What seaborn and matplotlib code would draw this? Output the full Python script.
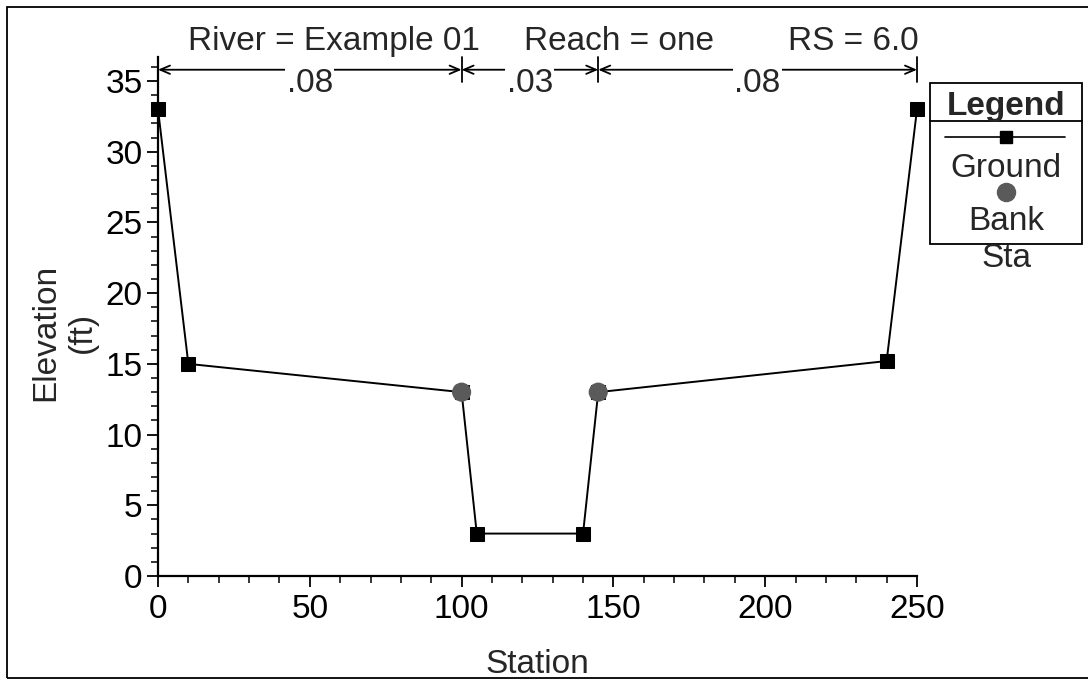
import numpy as np
import pandas as pd
import matplotlib.pyplot as plt
import seaborn as sns
from matplotlib.lines import Line2D
from matplotlib.patches import Rectangle
from matplotlib.ticker import MultipleLocator

# cross section data
station = [0, 10, 100, 105, 140, 145, 240, 250]
elevation = [33, 15, 13, 3, 3, 13, 15.2, 33]
bank_station = [100, 145]
bank_elevation = [13, 13]

# manning's n regions
n_breaks = [0, 100, 145, 250]
n_values = ['.08', '.03', '.08']

title_parts = ['River = Example 01', 'Reach = one', 'RS = 6.0']

W, H = 1088, 681


def fx(x):
    return x / W


def fy(y):
    return 1 - y / H


sns.set_style('white')
plt.rcParams['font.family'] = ['Liberation Sans', 'DejaVu Sans']
FS = 24

fig = plt.figure(figsize=(W / 100, H / 100), dpi=100)
ax = fig.add_axes([fx(158), fy(576), fx(917) - fx(158), fy(57) - fy(576)])

df = pd.DataFrame({'Station': station, 'Elevation': elevation})
sns.lineplot(data=df, x='Station', y='Elevation', ax=ax, sort=False,
             color='black', lw=1.4, marker='s', markersize=9.5,
             markeredgecolor='black', clip_on=False, zorder=4)
sns.scatterplot(x=bank_station, y=bank_elevation, ax=ax, color='#5a5a5a',
                s=190, edgecolor='none', zorder=5, clip_on=False, legend=False)

ax.set_xlim(0, 250)
ax.set_ylim(0, 36.7)
ax.xaxis.set_major_locator(MultipleLocator(50))
ax.xaxis.set_minor_locator(MultipleLocator(10))
ax.yaxis.set_major_locator(MultipleLocator(5))
ax.yaxis.set_minor_locator(MultipleLocator(1))
ax.set_xlabel('')
ax.set_ylabel('')
sns.despine(ax=ax)
for s in ['left', 'bottom']:
    ax.spines[s].set_color('black')
    ax.spines[s].set_linewidth(1.6)
ax.tick_params(which='both', bottom=True, left=True, top=False, right=False)
ax.tick_params(which='major', direction='out', length=8, width=1.3,
               colors='black', labelsize=FS)
ax.tick_params(which='minor', direction='out', length=5, width=1.1,
               colors='black')
ax.tick_params(axis='x', which='major', pad=5)
ax.tick_params(axis='y', which='major', pad=3)
ax.grid(False)

# n value dimension lines
y_dim = 35.8
for a, b, lab in zip(n_breaks[:-1], n_breaks[1:], n_values):
    ax.annotate('', xy=(a, y_dim), xytext=(b, y_dim), annotation_clip=False,
                arrowprops=dict(arrowstyle='<->,head_length=0.7,head_width=0.3',
                                lw=1.3, color='black', shrinkA=0, shrinkB=0))
    ax.text((a + b) / 2, 34.25, lab, ha='center', va='baseline', fontsize=FS,
            zorder=6, bbox=dict(fc='white', ec='none', pad=1))
for b in n_breaks[1:]:
    ax.plot([b, b], [34.9, 36.7], color='black', lw=1.3, clip_on=False)

# title line
fig.text(fx(188), fy(50), title_parts[0], ha='left', va='baseline', fontsize=FS)
fig.text(fx(524), fy(50), title_parts[1], ha='left', va='baseline', fontsize=FS)
fig.text(fx(919), fy(50), title_parts[2], ha='right', va='baseline', fontsize=FS)

# axis labels
fig.text(fx(537), fy(673), 'Station', ha='center', va='baseline', fontsize=FS)
fig.text(fx(64), fy(332), 'Elevation\n(ft)', ha='center', va='center',
         rotation=90, multialignment='center', fontsize=FS)

# legend box
fig.add_artist(Rectangle((fx(930), fy(244)), fx(1082) - fx(930), fy(83) - fy(244),
                         transform=fig.transFigure, fc='white', ec='black', lw=1.3))
fig.add_artist(Line2D([fx(930), fx(1082)], [fy(121), fy(121)],
                      transform=fig.transFigure, color='black', lw=1.3))
fig.text(fx(1006), fy(115), 'Legend', ha='center', va='baseline',
         fontsize=FS, fontweight='bold')
fig.add_artist(Line2D([fx(945), fx(1065)], [fy(137), fy(137)],
                      transform=fig.transFigure, color='black', lw=1.2))
fig.add_artist(Line2D([fx(1006)], [fy(137)], transform=fig.transFigure,
                      marker='s', markersize=9, color='black', lw=0))
fig.text(fx(1006), fy(177), 'Ground', ha='center', va='baseline', fontsize=FS)
fig.add_artist(Line2D([fx(1006)], [fy(192)], transform=fig.transFigure,
                      marker='o', markersize=13, color='#5a5a5a', lw=0))
fig.text(fx(1006), fy(230), 'Bank', ha='center', va='baseline', fontsize=FS)
fig.text(fx(1006), fy(267), 'Sta', ha='center', va='baseline', fontsize=FS)

# outer frame
fig.add_artist(Rectangle((fx(7), fy(678)), fx(1100) - fx(7), fy(7) - fy(678),
                         transform=fig.transFigure, fc='none', ec='black', lw=1.3))

fig.savefig('out.png', dpi=100)
